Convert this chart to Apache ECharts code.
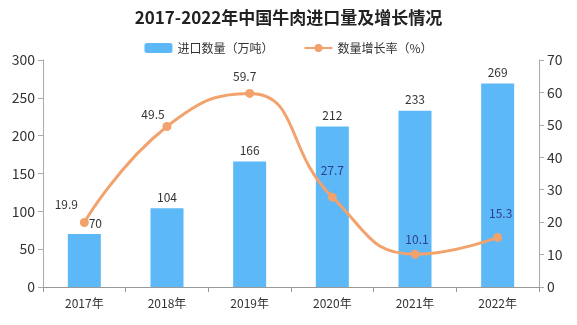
<!DOCTYPE html>
<html><head><meta charset="utf-8">
<script src="https://cdn.jsdelivr.net/npm/echarts@6/dist/echarts.min.js"></script>
<style>html,body{margin:0;padding:0;background:#fff}#c{width:577px;height:325px}</style>
</head><body><div id="c"></div>
<script>
const categories = ['2017年','2018年','2019年','2020年','2021年','2022年'];
const importVolume = [70, 104, 166, 212, 233, 269];
const growthRate = [19.9, 49.5, 59.7, 27.7, 10.1, 15.3];
const leftTicks = [0, 300, 50];
const rightTicks = [0, 70, 10];

const darkLabel = '#333';
const blueLabel = '#2f3f8f';
const barLabelOffset = [[11,0],[0,0],[0,0],[0,0],[0,0],[0,0]];
const lineLabelOffset = [[-18,-18],[-14,-12],[-5,-17],[0,-27],[2,-15],[3,-24]];
const lineLabelColor = [darkLabel, darkLabel, darkLabel, blueLabel, blueLabel, blueLabel];

const chart = echarts.init(document.getElementById('c'));
chart.setOption({
  animation: false,
  textStyle: {fontFamily: '"Noto Sans CJK SC", "Noto Sans", sans-serif'},
  title: {
    text: '2017-2022年中国牛肉进口量及增长情况',
    left: 'center', top: 4,
    textStyle: {fontSize: 17, fontWeight: 'bold', color: '#222', fontFamily: '"Noto Sans CJK SC", sans-serif'}
  },
  legend: {
    top: 37, left: 'center', itemGap: 30, itemWidth: 28, itemHeight: 10,
    textStyle: {fontSize: 12, color: '#333'},
    data: ['进口数量（万吨）', '数量增长率（%）']
  },
  grid: {left: 43, right: 38, top: 60, bottom: 38},
  xAxis: {
    type: 'category', data: categories,
    axisLine: {lineStyle: {color: '#999'}},
    axisTick: {show: true, length: 5, lineStyle: {color: '#999'}},
    axisLabel: {color: '#333', fontSize: 12, margin: 10}
  },
  yAxis: [{
    type: 'value', min: leftTicks[0], max: leftTicks[1], interval: leftTicks[2],
    axisLine: {show: true, lineStyle: {color: '#aaa'}},
    axisTick: {show: true, length: 5, lineStyle: {color: '#aaa'}},
    splitLine: {show: false},
    axisLabel: {color: '#333', fontSize: 14}
  }, {
    type: 'value', min: rightTicks[0], max: rightTicks[1], interval: rightTicks[2],
    axisLine: {show: true, lineStyle: {color: '#aaa'}},
    axisTick: {show: true, length: 5, lineStyle: {color: '#aaa'}},
    splitLine: {show: false},
    axisLabel: {color: '#333', fontSize: 14}
  }],
  series: [{
    name: '进口数量（万吨）', type: 'bar', barWidth: 33,
    data: importVolume.map((v, i) => ({value: v, label: {offset: barLabelOffset[i]}})),
    itemStyle: {color: '#5cb8f7'},
    label: {show: true, position: 'top', color: '#333', fontSize: 12}
  }, {
    name: '数量增长率（%）', type: 'line', yAxisIndex: 1, smooth: 0.5,
    data: growthRate.map((v, i) => ({
      value: v,
      label: {position: 'inside', offset: lineLabelOffset[i], color: lineLabelColor[i]}
    })),
    symbol: 'circle', symbolSize: 9,
    lineStyle: {color: '#f2a26c', width: 3},
    itemStyle: {color: '#f2a26c'},
    label: {show: true, fontSize: 12}
  }]
});
</script></body></html>
